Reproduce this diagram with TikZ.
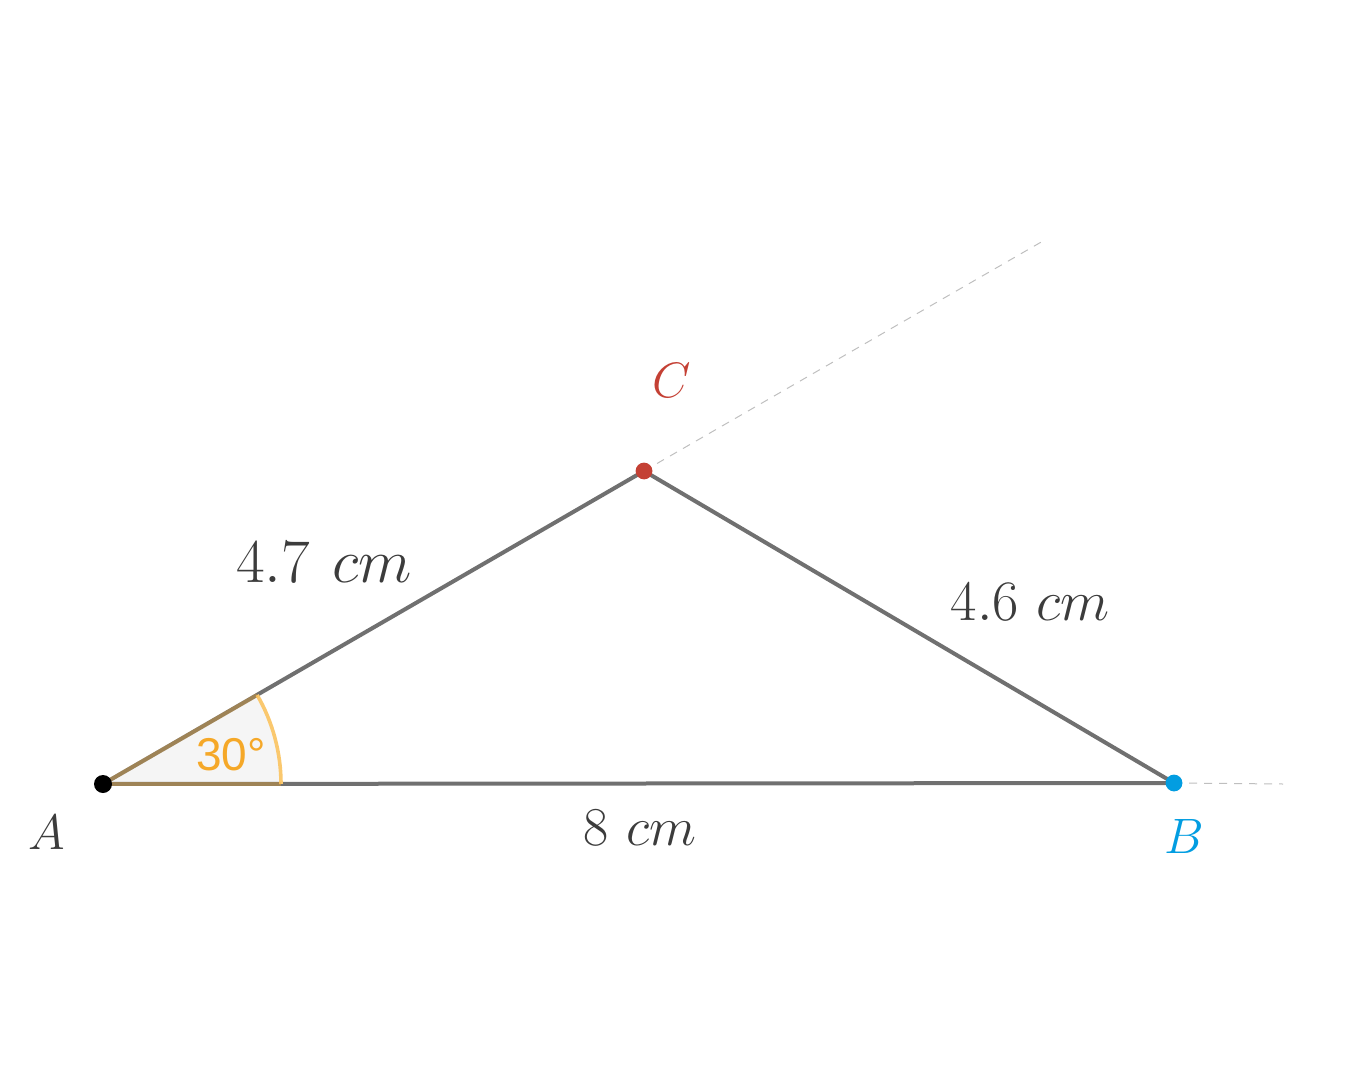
\documentclass[tikz,border=0pt]{standalone}
\usepackage{graphicx}
\usepackage{fontspec}
\newfontfamily\labfont{Liberation Sans}
\begin{document}
\begin{tikzpicture}[x=0.5pt,y=-0.5pt,
  side/.style={draw=sidegray,line width=2pt,line cap=round},
  ext/.style={draw=black!25,line width=0.5pt,dash pattern=on 4pt off 3.5pt},
  lab/.style={text=labgray,font=\fontsize{24.88}{30}\selectfont},
  ptlab/.style={font=\fontsize{24.88}{30}\selectfont}]
\definecolor{sidegray}{RGB}{112,112,112}
\definecolor{labgray}{RGB}{60,60,60}
\definecolor{ptred}{RGB}{196,64,52}
\definecolor{ptblue}{RGB}{2,157,225}
\definecolor{angorange}{RGB}{245,168,40}
\definecolor{arcorange}{RGB}{250,200,110}
\useasboundingbox (0,0) rectangle (1353,1080);
\coordinate (A) at (103,784);
\coordinate (B) at (1174,783);
\coordinate (C) at (644,471);
\coordinate (Cext) at (1043,241);
\coordinate (Bext) at (1283,784);
% extensions
\draw[ext] (C) -- (Cext);
\draw[ext] (B) -- (Bext);
% angle sector fill
\fill[black!4] (A) -- ++(0:178) arc[start angle=0,end angle=-30,radius=178] -- cycle;
% sides
\draw[side] (A) -- (B);
\draw[side] (B) -- (C);
\draw[side] (C) -- (A);
% angle sector outline
\draw[arcorange,line width=1.8pt] (A) ++(0:178) arc[start angle=0,end angle=-30,radius=178];
\draw[angorange,opacity=0.35,line width=2pt] (A) -- ++(0:178);
\draw[angorange,opacity=0.35,line width=2pt] (A) -- ++(-30:178);
\node[text=angorange,font=\labfont\fontsize{23}{26}\selectfont] (ang) at (231,755) {30°};
% points
\fill[black] (A) circle[radius=4.5pt];
\fill[ptred] (C) circle[radius=4.2pt];
\fill[ptblue] (B) circle[radius=4.2pt];
% labels
\node[ptlab,text=labgray] (LA) at (47,832) {$A$};
\node[ptlab,text=ptblue] (LB) at (1184,836) {$B$};
\node[ptlab,text=ptred] (LC) at (672,380) {$C$};
\node[lab] (LAC) at (324,562) {\scalebox{1.25}{$4.7\hspace{9pt}cm$}};
\node[lab] (LBC) at (1030,602) {\scalebox{1.15}{$4.6\hspace{7.5pt}cm$}};
\node[lab] (LAB) at (640,828) {\scalebox{1.1}{$8\hspace{8.5pt}cm$}};
\end{tikzpicture}
\end{document}
